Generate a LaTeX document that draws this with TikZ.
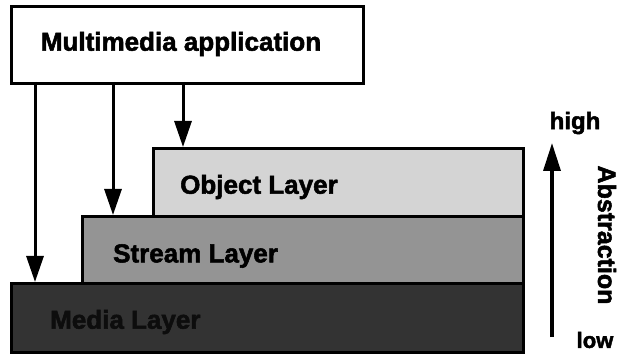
\documentclass[tikz,border=0pt]{standalone}
\usepackage{fontspec}
\setmainfont{Liberation Sans}
\newfontface\heavy{Liberation Sans Bold}[RawFeature={embolden=2}]
\usetikzlibrary{arrows.meta}
\begin{document}
\begin{tikzpicture}[x=1pt,y=-1pt,
  lbl/.style={font=\fontsize{26}{30}\heavy, inner sep=0pt},
  layerbox/.style={draw=black, line width=3pt, anchor=north west, inner sep=0pt},
  arr/.style={line width=3pt, -{Triangle[width=17pt,length=26pt]}}]
\useasboundingbox (0,0) rectangle (621,355);
% application box
\node[draw=black, line width=2.6pt, anchor=north west, minimum width=352pt, minimum height=77pt, inner sep=0pt] (app) at (10,5) {};
\node[lbl] (appt) at (181,44) {Multimedia application};
% layers
\node[layerbox, fill=black!80, minimum width=512pt, minimum height=69pt] (med) at (10,282) {};
\node[layerbox, fill=black!42, minimum width=441pt, minimum height=67pt] (str) at (81,215) {};
\node[layerbox, fill=black!17, minimum width=370pt, minimum height=68pt] (obj) at (152,147) {};
\node[lbl, anchor=west] (objt) at (180,187) {Object Layer};
\node[lbl, anchor=west] (strt) at (113,256) {Stream Layer};
\node[lbl, anchor=west, text=black!95] (medt) at (50,322) {Media Layer};
% arrows from application
\coordinate (a1) at (35,82);
\coordinate (a2) at (113,82);
\coordinate (a3) at (183,82);
\draw[arr] (a1) -- (a1 |- med.north);
\draw[arr] (a2) -- (a2 |- str.north);
\draw[arr] (a3) -- (a3 |- obj.north);
% abstraction axis
\node[lbl, font=\fontsize{24}{28}\heavy] (high) at (575,123) {high};
\node[lbl, font=\fontsize{22}{26}\heavy] (low) at (595,340) {low};
\node[lbl, font=\fontsize{25}{28}\heavy, rotate=-90] (abs) at (607,235) {Abstraction};
\coordinate (ab1) at (552,337);
\coordinate (ab2) at (552,143);
\draw[line width=3.4pt, -{Triangle[width=17pt,length=28pt]}] (ab1) -- (ab2);
\end{tikzpicture}
\end{document}
